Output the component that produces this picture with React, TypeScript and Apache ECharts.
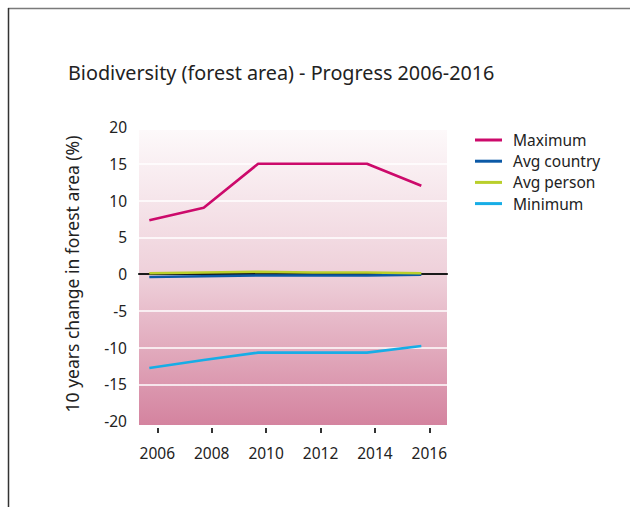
import React, { useEffect, useRef } from "react";
import * as echarts from "echarts";

const years = [2006, 2008, 2010, 2012, 2014, 2016];
const maximum = [7.3, 9.0, 15.0, 15.0, 15.0, 12.0];
const avgCountry = [-0.4, -0.3, -0.2, -0.2, -0.2, -0.1];
const avgPerson = [0.1, 0.2, 0.3, 0.2, 0.2, 0.1];
const minimum = [-12.8, -11.7, -10.7, -10.7, -10.7, -9.8];
const yTicks = { min: -20, max: 20, interval: 5 };
const seriesNames = ["Maximum", "Avg country", "Avg person", "Minimum"];
const seriesColors = ["#cc0a6b", "#0b59a6", "#b9cf2b", "#17ade6"];

const FONT = "Noto Sans";

export default function App() {
  const ref = useRef<HTMLDivElement>(null);
  useEffect(() => {
    if (!ref.current) return;
    const chart = echarts.init(ref.current, null, { renderer: "svg" });
    const xMin = 2005.327;
    const xMax = 2016.65;
    const shift = 0.294;
    const values = [maximum, avgCountry, avgPerson, minimum];
    chart.setOption({
      animation: false,
      backgroundColor: "#ffffff",
      textStyle: { fontFamily: FONT },
      title: {
        text: "Biodiversity (forest area) - Progress 2006-2016",
        left: 63,
        top: 57,
        textStyle: { fontFamily: FONT, fontSize: 19.8, fontWeight: "normal", color: "#222" },
      },
      legend: {
        orient: "vertical",
        left: 470,
        top: 127,
        itemWidth: 27,
        itemHeight: 14,
        itemGap: 5.2,
        data: seriesNames.map((n, i) => ({
          name: n,
          icon: "path://M0,0 L27,0 L27,3 L0,3 Z",
          itemStyle: { color: seriesColors[i] },
        })),
        textStyle: { fontFamily: FONT, fontSize: 15.5, color: "#222", padding: [0, 0, 0, 6] },
      },
      grid: {
        left: 139,
        right: 183,
        top: 127,
        bottom: 86,
        outerBoundsMode: "none",
        containLabel: false,
      },
      graphic: [
        {
          type: "rect",
          z: -1,
          shape: { x: 139, y: 130, width: 308, height: 295 },
          style: {
            fill: new echarts.graphic.LinearGradient(0, 0, 0, 1, [
              { offset: 0, color: "#fdf9fa" },
              { offset: 0.5, color: "#eecfd9" },
              { offset: 1, color: "#d4839f" },
            ]),
          },
        },
        {
          type: "line",
          shape: { x1: 8, y1: 8.5, x2: 630, y2: 8.5 },
          style: { stroke: "#7a7a7a", lineWidth: 1.5 },
        },
        {
          type: "line",
          shape: { x1: 8.5, y1: 8, x2: 8.5, y2: 507 },
          style: { stroke: "#333", lineWidth: 1.5 },
        },
      ],
      xAxis: [
        {
          type: "value",
          position: "bottom",
          offset: 7,
          min: xMin,
          max: xMax,
          axisLine: { show: false, onZero: false },
          axisTick: {
            show: true,
            customValues: years,
            length: 5,
            lineStyle: { color: "#333", width: 2 },
          },
          axisLabel: {
            customValues: years,
            formatter: (v: number) => String(Math.round(v)),
            fontFamily: FONT,
            fontSize: 15.5,
            color: "#222",
            margin: 17,
          },
          splitLine: { show: false },
        },
        {
          type: "value",
          position: "bottom",
          min: xMin + shift,
          max: xMax + shift,
          z: 1,
          axisLine: { show: true, onZero: true, lineStyle: { color: "#1a1a1a", width: 2.2 } },
          axisTick: { show: false },
          axisLabel: { show: false },
          splitLine: { show: false },
        },
      ],
      yAxis: {
        type: "value",
        min: yTicks.min,
        max: yTicks.max,
        interval: yTicks.interval,
        name: "10 years change in forest area (%)",
        nameLocation: "middle",
        nameRotate: 90,
        nameGap: 58,
        nameTextStyle: { fontFamily: FONT, fontSize: 17.5, color: "#222" },
        axisLine: { show: false },
        axisTick: { show: false },
        axisLabel: { fontFamily: FONT, fontSize: 15.5, color: "#222", margin: 12 },
        splitLine: {
          show: true,
          showMinLine: false,
          showMaxLine: false,
          lineStyle: { color: "#ffffff", width: 1.5 },
        },
      },
      series: seriesNames.map((n, i) => ({
        name: n,
        type: "line",
        xAxisIndex: 1,
        symbol: "none",
        lineStyle: { color: seriesColors[i], width: 2.6 },
        itemStyle: { color: seriesColors[i] },
        data: years.map((y, j) => [y, values[i][j]]),
      })),
    });
    return () => chart.dispose();
  }, []);
  return (
    <div
      ref={ref}
      style={{ position: "absolute", left: 0, top: 0, width: 630, height: 507 }}
    />
  );
}
